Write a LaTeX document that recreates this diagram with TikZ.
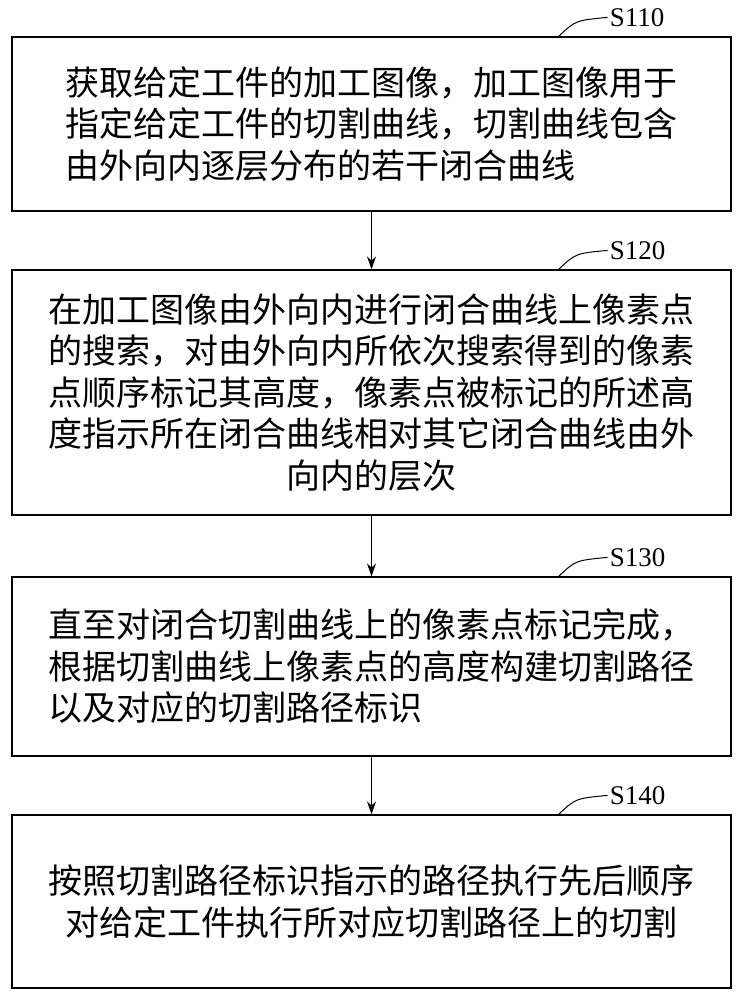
\documentclass[tikz,border=0pt]{standalone}
\usepackage{fontspec}
\setmainfont{Liberation Serif}
\newfontfamily\cjk{Noto Sans CJK SC}
\usetikzlibrary{positioning,arrows.meta}
\tikzset{
  stepbox/.style={draw, line width=1.2pt, minimum width=719pt, inner sep=0pt,
    font=\cjk\fontsize{34}{41.5}\selectfont},
  steplabel/.style={font=\fontsize{27}{27}\selectfont, anchor=west, inner sep=0pt},
  flow/.style={-{Stealth[length=13pt,width=9pt]}, line width=1.2pt}
}
\begin{document}
\begin{tikzpicture}[x=1pt, y=-1pt]
\useasboundingbox (0,0) rectangle (740,1000);

\node[stepbox, minimum height=174pt, align=left] (s110) at (371.5,124)
  {获取给定工件的加工图像，加工图像用于\\指定给定工件的切割曲线，切割曲线包含\\由外向内逐层分布的若干闭合曲线};
\node[stepbox, minimum height=245pt, align=center] (s120) at (371.5,392.5)
  {在加工图像由外向内进行闭合曲线上像素点\\的搜索，对由外向内所依次搜索得到的像素\\点顺序标记其高度，像素点被标记的所述高\\度指示所在闭合曲线相对其它闭合曲线由外\\向内的层次};
\node[stepbox, minimum height=179pt, align=left] (s130) at (371.5,666.5)
  {直至对闭合切割曲线上的像素点标记完成，\\根据切割曲线上像素点的高度构建切割路径\\以及对应的切割路径标识};
\node[stepbox, minimum height=173pt, align=center] (s140) at (371.5,901.5)
  {按照切割路径标识指示的路径执行先后顺序\\对给定工件执行所对应切割路径上的切割};

% step labels
\foreach \b/\t in {s110/S110, s120/S120, s130/S130, s140/S140} {
  \coordinate (\b-c) at ([xshift=-6pt]\b.north east);
  \draw[line width=1pt] ([xshift=-167pt]\b-c) .. controls ([xshift=-150pt,yshift=16pt]\b-c) .. ([xshift=-118pt,yshift=19pt]\b-c);
  \node[steplabel] (\b-l) at ([xshift=-116pt,yshift=19pt]\b-c) {\t};
}

\draw[flow] (s110) -- (s120);
\draw[flow] (s120) -- (s130);
\draw[flow] (s130) -- (s140);
\end{tikzpicture}
\end{document}
